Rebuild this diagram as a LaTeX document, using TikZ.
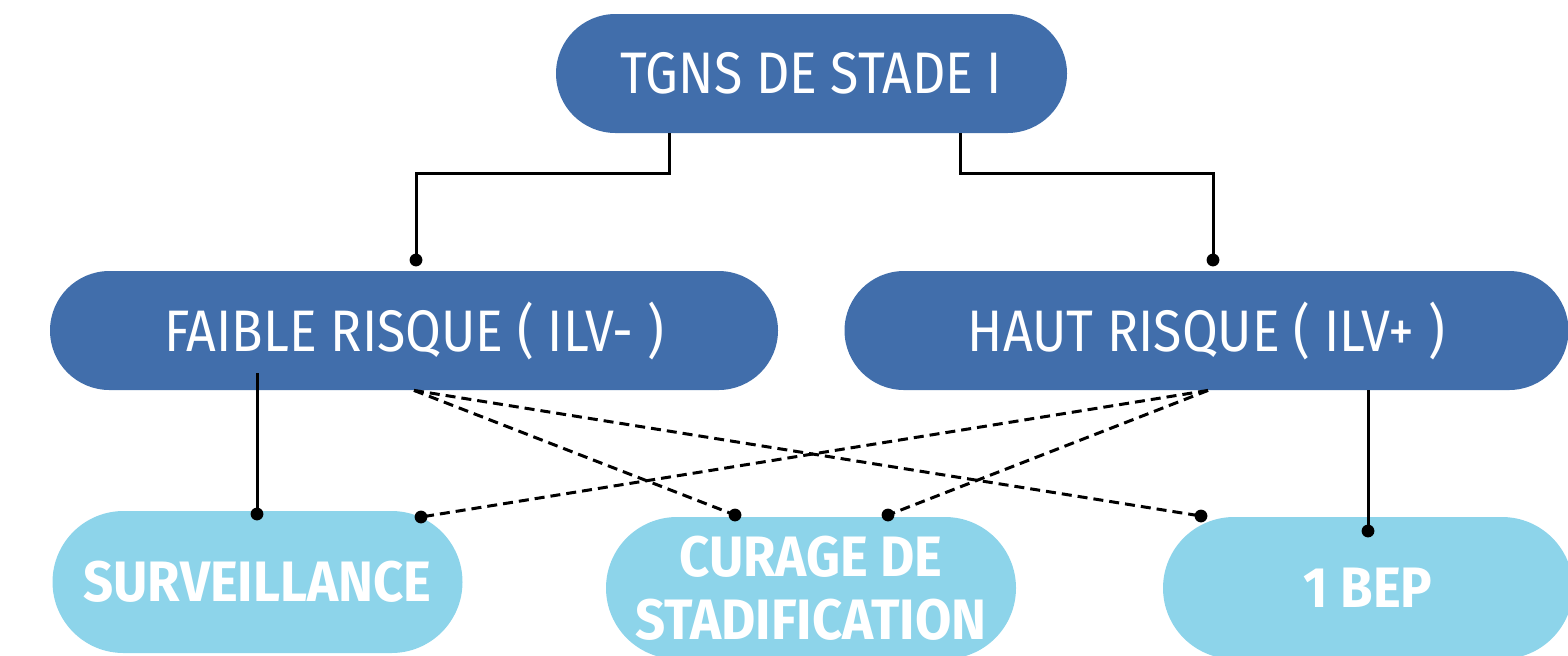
\documentclass[tikz,border=0pt]{standalone}
\usepackage{fontspec}
\newfontfamily\dinreg[FakeStretch=0.885]{Fira Sans}
\newfontfamily\dinbold[FakeStretch=0.925]{Fira Sans Bold}
\definecolor{darkblue}{HTML}{416EAB}
\definecolor{lightblue}{HTML}{8DD4EA}
\begin{document}
\begin{tikzpicture}[x=0.5pt,y=-0.5pt,
  topbox/.style={fill=darkblue, text=white, rounded corners=29.75pt, minimum height=59.5pt, inner sep=0pt, font=\dinreg\fontsize{29.3}{34}\selectfont},
  leafbox/.style={fill=lightblue, text=white, rounded corners=35.5pt, minimum height=71pt, minimum width=205pt, inner sep=0pt, align=center, font=\dinbold\fontsize{28.5}{31.5}\selectfont},
  link/.style={line width=1.5pt, black},
  dlink/.style={line width=1.5pt, black, dash pattern=on 5pt off 3pt},
  dot/.style={fill=black}]
\useasboundingbox (0,0) rectangle (1568,655);
% main nodes
\node[topbox, minimum width=255.5pt] (top) at (811.5,73.5) {TGNS DE STADE I};
\node[topbox, minimum width=364pt] (faible) at (414,330.5) {FAIBLE RISQUE ( ILV- )};
\node[topbox, minimum width=362pt] (haut) at (1206.5,330.5) {HAUT RISQUE ( ILV+ )};
\node[leafbox] (surv) at (257.5,582) {SURVEILLANCE};
\node[leafbox] (cur) at (811,588) {CURAGE DE\\STADIFICATION};
\node[leafbox] (bep) at (1368,588) {1 BEP};
% coordinates
\coordinate (a1) at (669,173);
\coordinate (a2) at (960,173);
\coordinate (d1) at (416,260);
\coordinate (d2) at (1213,260);
\coordinate (s1) at (257,373);
\coordinate (ds) at (257,514);
\coordinate (s2) at (1368,390);
\coordinate (db) at (1368,531);
\coordinate (fo) at (414,390);
\coordinate (ho) at (1208,390);
\coordinate (dsurv) at (421,517);
\coordinate (dcur1) at (735,515);
\coordinate (dcur2) at (888,515);
\coordinate (dbep) at (1201,516);
% solid connectors
\draw[link] (top.south -| a1) -- (a1) -| (d1);
\draw[link] (top.south -| a2) -- (a2) -| (d2);
\draw[link] (s1) -- (ds);
\draw[link] (haut.south -| s2) -- (db);
% dashed connectors
\draw[dlink] (faible.south -| fo) -- (dcur1);
\draw[dlink] (faible.south -| fo) -- (dbep);
\draw[dlink] (haut.south -| ho) -- (dsurv);
\draw[dlink] (haut.south -| ho) -- (dcur2);
% dots
\foreach \p in {d1,d2,ds,db,dsurv,dcur1,dcur2,dbep}
  \fill[dot] (\p) circle (3.2pt);
\end{tikzpicture}
\end{document}
